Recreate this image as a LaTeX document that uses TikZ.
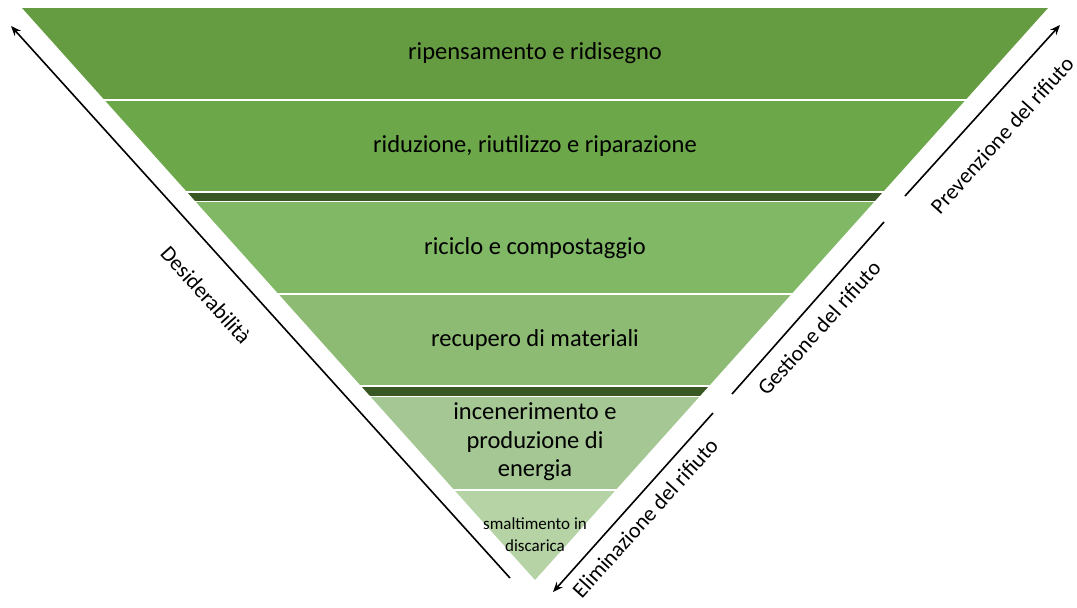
\documentclass[tikz,border=0pt]{standalone}
\usepackage{fontspec}
\setmainfont{Carlito}
\usepackage{tikz}
\usetikzlibrary{arrows.meta,positioning}
\usepackage{xcolor}
\definecolor{wgbandA}{RGB}{102,156,65}
\definecolor{wgbandB}{RGB}{108,168,74}
\definecolor{wgbandC}{RGB}{128,184,102}
\definecolor{wgbandD}{RGB}{141,187,115}
\definecolor{wgbandE}{RGB}{164,199,147}
\definecolor{wgbandF}{RGB}{181,211,165}
\definecolor{wgdark}{RGB}{56,87,35}
\tikzstyle{arrow} = [line width=1.6pt,->,>={Stealth[length=10pt,width=8pt]},color=black]
\tikzstyle{bar} = [line width=1.6pt,color=black]
\tikzstyle{bandtext} = [font=\fontsize{24.5}{28.5}\selectfont, align=center]
\tikzstyle{sidetext} = [font=\fontsize{22}{26}\selectfont]

\begin{document}
\begin{tikzpicture}[x=1pt,y=-1pt]
\useasboundingbox (0,0) rectangle (1077,608);

% Bands of the pyramid
\begin{scope}
\clip (22,8) -- (1048,8) -- (535,580) -- cycle;
\fill[wgbandA] (0,8) rectangle (1077,99);
\fill[wgbandB] (0,100.5) rectangle (1077,191);
\fill[wgdark] (0,192.5) rectangle (1077,200.5);
\fill[wgbandC] (0,202) rectangle (1077,293);
\fill[wgbandD] (0,294.5) rectangle (1077,385);
\fill[wgdark] (0,386.5) rectangle (1077,395.5);
\fill[wgbandE] (0,397) rectangle (1077,489);
\fill[wgbandF] (0,490.5) rectangle (1077,580);
\end{scope}

% Labels
\node[bandtext] (ripens) at (535,53) {ripensamento e ridisegno};
\node[bandtext] (riduz) at (535,146) {riduzione, riutilizzo e riparazione};
\node[bandtext] (ricicl) at (535,248) {riciclo e compostaggio};
\node[bandtext] (recup) at (535,340) {recupero di materiali};
\node[bandtext] (incen) at (535,442) {incenerimento e\\produzione di\\energia};
\node[font=\fontsize{17}{22}\selectfont, align=center] (smalt) at (535,535) {smaltimento in\\discarica};

% Left arrow
\coordinate (desTop) at (11,26);
\coordinate (desBot) at (510,578);
\draw[arrow] (desBot) -- (desTop);
\node[sidetext, rotate=-48] (desid) at (206,295) {Desiderabilità};

% Right side
\coordinate (prevTop) at (1060,25);
\coordinate (prevBot) at (905,196);
\coordinate (gestTop) at (884,222);
\coordinate (gestBot) at (732,394);
\coordinate (elimTop) at (713,413);
\coordinate (elimBot) at (553,592);
\draw[arrow] (prevBot) -- (prevTop);
\draw[bar] (gestBot) -- (gestTop);
\draw[arrow] (elimTop) -- (elimBot);
\node[sidetext, rotate=48] (prev) at (1002,135) {Prevenzione del rifiuto};
\node[sidetext, rotate=48] (gest) at (819,328) {Gestione del rifiuto};
\node[sidetext, rotate=48] (elim) at (645,518) {Eliminazione del rifiuto};
\end{tikzpicture}
\end{document}
